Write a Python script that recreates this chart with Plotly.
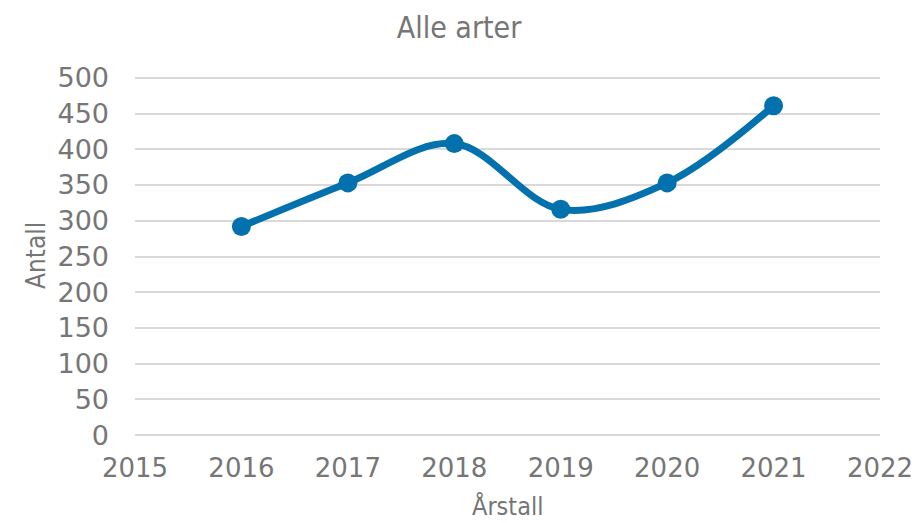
import plotly.graph_objects as go

years = [2016, 2017, 2018, 2019, 2020, 2021]
antall = [292, 353, 408, 316, 353, 461]
x_ticks = [2015, 2016, 2017, 2018, 2019, 2020, 2021, 2022]
y_ticks = [0, 50, 100, 150, 200, 250, 300, 350, 400, 450, 500]

TEXT = "#767676"
LINE = "#0271ae"

fig = go.Figure()
fig.add_trace(go.Scatter(
    x=years, y=antall, mode="lines+markers",
    line=dict(color=LINE, width=7, shape="spline", smoothing=1.0),
    marker=dict(color=LINE, size=19),
    showlegend=False,
))

W, H = 918, 523
L, R, T, B = 135, 38, 75, 85
PH = H - T - B
PW = W - L - R

fig.update_layout(
    width=W, height=H,
    margin=dict(l=L, r=R, t=T, b=B, autoexpand=False),
    paper_bgcolor="white", plot_bgcolor="white",
    font=dict(family="DejaVu Sans", color=TEXT, size=26),
    title=dict(text="Alle arter", x=0.5, xanchor="center",
               y=1 - 27 / H, yanchor="middle", yref="container",
               automargin=False,
               font=dict(family="DejaVu Sans Condensed", size=30, color=TEXT)),
    xaxis=dict(range=[2015, 2022], tickmode="array", tickvals=x_ticks,
               ticktext=[str(v) for v in x_ticks], showgrid=False,
               zeroline=False, showline=False, ticks="", automargin=False,
               ticklabelstandoff=12,
               tickfont=dict(size=26, color=TEXT)),
    yaxis=dict(range=[-4, 504], tickmode="array", tickvals=y_ticks,
               showgrid=True, gridcolor="#d9d9d9", gridwidth=2,
               zeroline=False, showline=False, ticks="", automargin=False,
               ticklabelstandoff=25,
               tickfont=dict(size=27, color=TEXT)),
    annotations=[
        dict(text="Årstall", xref="paper", yref="paper", x=0.5,
             y=-(506 - 438) / PH, xanchor="center", yanchor="middle",
             showarrow=False, borderpad=0,
             font=dict(family="DejaVu Sans Condensed", size=25, color=TEXT)),
        dict(text="Antall", xref="paper", yref="paper",
             x=-(L - 36) / PW, y=(438 - 256) / PH,
             xanchor="center", yanchor="middle", textangle=-90,
             showarrow=False, borderpad=0,
             font=dict(family="DejaVu Sans Condensed", size=26, color=TEXT)),
    ],
)

fig.write_html("out.html", config={"displayModeBar": False},
               post_script="document.body.style.margin='0';")
